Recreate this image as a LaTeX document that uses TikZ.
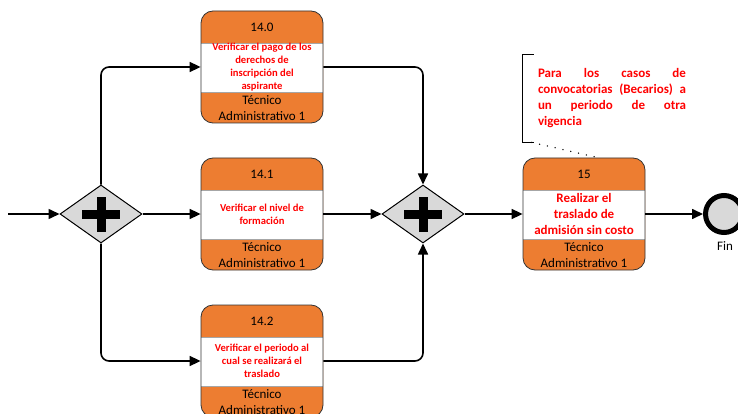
\documentclass[tikz,border=0pt]{standalone}
\usepackage{fontspec}
\setmainfont{Carlito}
\usetikzlibrary{shapes.geometric,arrows.meta}
\definecolor{taskorange}{HTML}{ED7D31}
\definecolor{gatewaygray}{HTML}{D9D9D9}
\definecolor{notered}{HTML}{FF0000}

\begin{document}
\begin{tikzpicture}[x=1pt,y=-1pt,
  flow/.style={line width=1.6pt,-{Triangle[length=11pt,width=10pt]}},
  gateway/.style={diamond,draw,line width=1pt,fill=gatewaygray,minimum width=82pt,minimum height=58pt,inner sep=0pt},
  taskbox/.style={draw=black!80,line width=0.8pt,rounded corners=12pt,minimum width=122pt,minimum height=112pt,inner sep=0pt},
  plaintxt/.style={font=\fontsize{13}{16}\selectfont,align=center,inner sep=0pt},
  redtxt/.style={text=notered,align=center,inner sep=0pt},
  note/.style={text=notered,font=\bfseries\fontsize{13}{16}\selectfont,text width=148pt,align=justify,inner xsep=15pt,inner ysep=14pt}
]
\useasboundingbox (0,0) rectangle (738,414);

% tasks: orange top and bottom, white middle
\foreach \n/\cx/\cy/\nr/\fs/\ls/\txt in {
  0/262/67/14.0/10.6/13/{Verificar el pago de los\\derechos de\\inscripción del\\aspirante},
  1/262/214/14.1/10.6/13/{Verificar el nivel de\\formación},
  2/262/361/14.2/10.6/13/{Verificar el periodo al\\cual se realizará el\\traslado},
  3/584/214/15/13/16/{Realizar el\\traslado de\\admisión sin costo}} {
\fill[taskorange,rounded corners=12pt] (\cx-61,\cy-56) rectangle (\cx+61,\cy+56);
\fill[white] (\cx-61,\cy-24) rectangle (\cx+61,\cy+25);
\draw[gray!70] (\cx-61,\cy-24) -- (\cx+61,\cy-24) (\cx-61,\cy+25) -- (\cx+61,\cy+25);
\node[taskbox] (t\n) at (\cx,\cy) {};
\node[plaintxt] (t\n-nr) at (\cx,\cy-40) {\nr};
\node[redtxt,font=\bfseries\fontsize{\fs}{\ls}\selectfont] (t\n-txt) at (\cx,\cy) {\txt};
\node[plaintxt] (t\n-role) at (\cx,\cy+41) {Técnico\\Administrativo 1};
}

\node[gateway] (g1) at (101,214) {};
\node[gateway] (g2) at (423,214) {};
\foreach \g in {g1,g2} {
\fill ([shift={(-19,-4.5)}]\g.center) rectangle ++(38,9);
\fill ([shift={(-4.5,-17.5)}]\g.center) rectangle ++(9,35);
}

\node[circle,draw,line width=5pt,fill=gatewaygray,minimum size=37pt,inner sep=0pt] (fin) at (724,214) {};
\node[plaintxt] (fin-lbl) at (725,246) {Fin};

\coordinate (start) at (8,214);
\draw[flow] (start) -- (g1.west);
\draw[flow,rounded corners=8pt] (g1.north) |- (t0.west);
\draw[flow] (g1.east) -- (t1.west);
\draw[flow,rounded corners=8pt] (g1.south) |- (t2.west);
\draw[flow,rounded corners=8pt] (t0.east) -| (g2.north);
\draw[flow] (t1.east) -- (g2.west);
\draw[flow,rounded corners=8pt] (t2.east) -| (g2.south);
\draw[flow] (g2.east) -- (t3.west);
\draw[flow] (t3.east) -- (fin.west);

\node[note] (note) at (612,98.5) {Para los casos de\linebreak convocatorias (Becarios) a\linebreak un periodo de otra\linebreak vigencia};
\draw[line width=1.2pt] ([xshift=11pt]note.north west) -- (note.north west) -- (note.south west) -- ([xshift=11pt]note.south west);
\draw[line width=1.5pt,line cap=round,dash pattern=on 0pt off 8pt] ([xshift=9pt]note.south west) -- ([xshift=14pt]t3.north);

\end{tikzpicture}
\end{document}
